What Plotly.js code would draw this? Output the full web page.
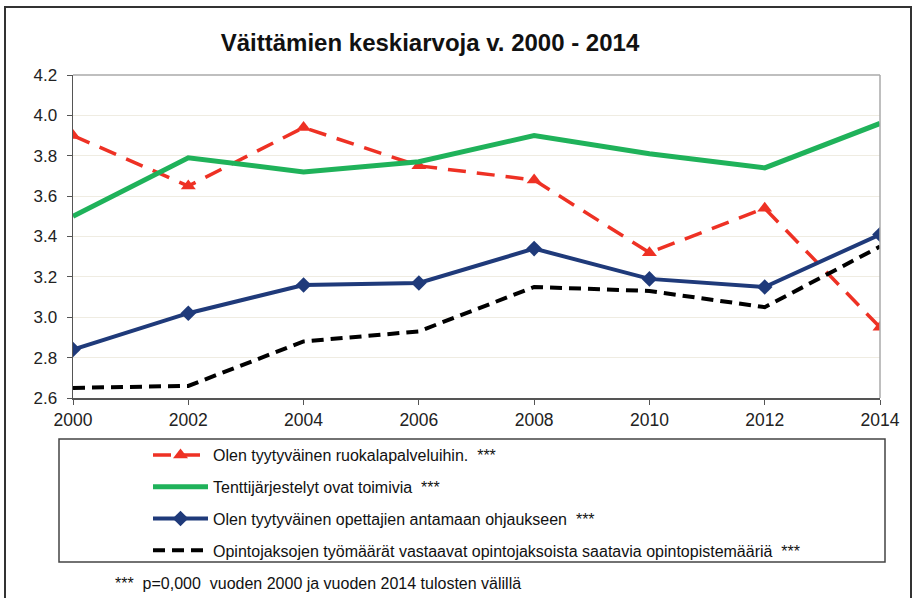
<!DOCTYPE html>
<html>
<head>
<meta charset="utf-8">
<script src="https://cdn.plot.ly/plotly-3.0.1.min.js"></script>
<style>html,body{margin:0;padding:0;background:#fff;}#chart{width:919px;height:598px;}</style>
</head>
<body>
<div id="chart"></div>
<script>
const years = [2000, 2002, 2004, 2006, 2008, 2010, 2012, 2014];
const ruokala = [3.90, 3.65, 3.94, 3.75, 3.68, 3.32, 3.54, 2.95];
const tentti = [3.50, 3.79, 3.72, 3.77, 3.90, 3.81, 3.74, 3.96];
const ohjaus = [2.84, 3.02, 3.16, 3.17, 3.34, 3.19, 3.15, 3.41];
const tyomaara = [2.65, 2.66, 2.88, 2.93, 3.15, 3.13, 3.05, 3.35];
const names = [
  "Olen tyytyväinen ruokalapalveluihin.  ***",
  "Tenttijärjestelyt ovat toimivia  ***",
  "Olen tyytyväinen opettajien antamaan ohjaukseen  ***",
  "Opintojaksojen työmäärät vastaavat opintojaksoista saatavia opintopistemääriä  ***"
];
const titleText = "Väittämien keskiarvoja v. 2000 - 2014";
const footnote = "***  p=0,000  vuoden 2000 ja vuoden 2014 tulosten välillä";

const traces = [
  {x: years, y: ruokala, name: names[0], legendgroup: "a", mode: "lines+markers",
   line: {color: "#ee3124", width: 3.5, dash: "18px,11px"},
   marker: {symbol: "triangle-up", size: 13, color: "#ee3124"}},
  {x: years, y: tentti, name: names[1], legendgroup: "b", mode: "lines",
   line: {color: "#1fb25a", width: 5}},
  {x: years, y: ohjaus, name: names[2], legendgroup: "c", mode: "lines+markers",
   line: {color: "#1f3a7a", width: 4},
   marker: {symbol: "diamond", size: 12, color: "#1f3a7a"}},
  {x: years, y: tyomaara, name: names[3], legendgroup: "d", mode: "lines",
   line: {color: "#000000", width: 4, dash: "12px,7px"}}
];

const L = 73, R = 880, T = 75, B = 398, W = 919, H = 598;
const px = v => (v - L) / (R - L);
const py = v => (B - v) / (B - T);

const layout = {
  width: W, height: H,
  margin: {l: L, r: W - R, t: T, b: H - B},
  paper_bgcolor: "#fff", plot_bgcolor: "#fff",
  font: {family: "Liberation Sans, Arial, sans-serif", color: "#222", size: 14},
  title: {text: "<b>" + titleText + "</b>", font: {size: 24, color: "#111"},
          x: px(430), xanchor: "center", xref: "paper", y: 1 - 43/H, yanchor: "middle"},
  xaxis: {range: [2000, 2014], tickvals: years, ticktext: years.map(String),
          showgrid: false, zeroline: false, showline: true, linecolor: "#555", linewidth: 1.5,
          ticks: "outside", ticklen: 5, tickcolor: "#555", tickfont: {size: 17.5}},
  yaxis: {range: [2.6, 4.2], dtick: 0.2, tick0: 2.6, tickformat: ".1f",
          showgrid: true, gridcolor: "#efece2", gridwidth: 1, zeroline: false,
          showline: true, linecolor: "#555", linewidth: 1.5, ticklabelstandoff: 6,
          ticks: "outside", ticklen: 5, tickcolor: "#555", tickfont: {size: 17}},
  showlegend: true,
  legend: {x: px(148), xanchor: "left", y: py(438), yanchor: "top",
           bgcolor: "rgba(0,0,0,0)", borderwidth: 0, font: {size: 16, color: "#111"},
           tracegroupgap: 8, itemwidth: 55, traceorder: "grouped"},
  shapes: [
    {type: "line", xref: "paper", yref: "paper", x0: 0, x1: 1, y0: 1, y1: 1, line: {color: "#aaa", width: 1.5}},
    {type: "line", xref: "paper", yref: "paper", x0: 1, x1: 1, y0: 0, y1: 1, line: {color: "#aaa", width: 1.5}},
    {type: "rect", xref: "paper", yref: "paper", x0: px(59), x1: px(885), y0: py(562), y1: py(439),
     line: {color: "#444", width: 1.5}},
    {type: "rect", xref: "paper", yref: "paper", x0: px(5), x1: px(911), y0: py(620), y1: py(7),
     line: {color: "#333", width: 2}}
  ],
  annotations: [
    {text: footnote, xref: "paper", yref: "paper", x: px(113), y: py(583), xanchor: "left", yanchor: "middle",
     showarrow: false, font: {size: 16, color: "#111"}}
  ]
};

Plotly.newPlot("chart", traces, layout, {displayModeBar: false, staticPlot: true});
</script>
</body>
</html>
